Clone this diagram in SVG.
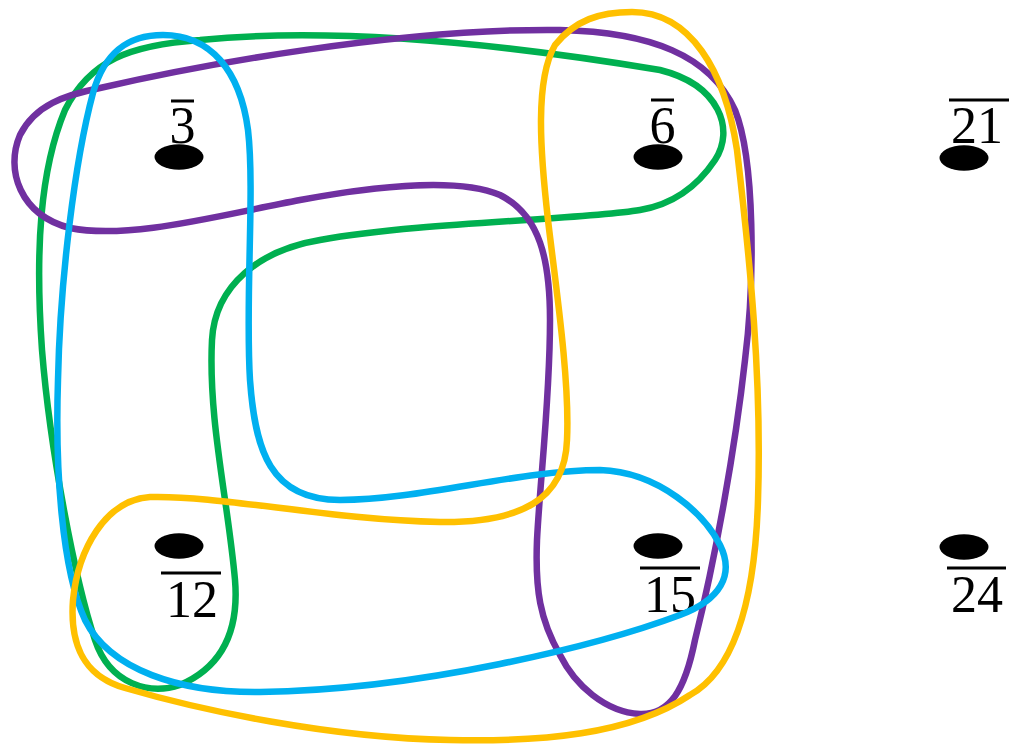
<svg xmlns="http://www.w3.org/2000/svg" width="1013" height="745" viewBox="0 0 1013 745">
<style>
.dot{fill:#000}
.lbl{font-family:"Liberation Serif","DejaVu Serif",serif;font-size:52px;fill:#000;text-anchor:middle}
.bar{stroke:#000;stroke-width:3}
.loop{fill:none;stroke-width:6.5;stroke-linejoin:round}
</style>
<rect width="1013" height="745" fill="#fff"/>
<g id="node-3">
<ellipse class="dot" cx="179" cy="157" rx="24.5" ry="12.7"/>
<text class="lbl" x="182.5" y="143">3</text>
<line class="bar" x1="171" y1="101" x2="194" y2="101"/>
</g>
<g id="node-6">
<ellipse class="dot" cx="658" cy="157" rx="24.5" ry="12.7"/>
<text class="lbl" x="662.5" y="143">6</text>
<line class="bar" x1="651" y1="100" x2="674" y2="100"/>
</g>
<g id="node-21">
<ellipse class="dot" cx="964" cy="158" rx="24.5" ry="12.7"/>
<text class="lbl" x="977" y="143">21</text>
<line class="bar" x1="949" y1="100" x2="1009" y2="100"/>
</g>
<g id="node-12">
<ellipse class="dot" cx="179" cy="546" rx="24.5" ry="12.7"/>
<text class="lbl" x="192" y="617">12</text>
<line class="bar" x1="161" y1="573" x2="221" y2="573"/>
</g>
<g id="node-15">
<ellipse class="dot" cx="658" cy="546" rx="24.5" ry="12.7"/>
<text class="lbl" x="670" y="612">15</text>
<line class="bar" x1="640" y1="568" x2="700" y2="568"/>
</g>
<g id="node-24">
<ellipse class="dot" cx="964" cy="547" rx="24.5" ry="12.7"/>
<text class="lbl" x="977" y="612">24</text>
<line class="bar" x1="947" y1="568" x2="1006" y2="568"/>
</g>
<g id="connectors">
<path id="green" class="loop" stroke="#00B050" d="M 200,40 C 300,30 450,35 660,70 C 720,85 735,130 715,160 C 695,190 670,205 640,210 C 580,220 420,222 320,240 C 260,250 215,285 212,340 C 208,420 228,500 235,580 C 240,640 215,670 180,685 C 150,695 110,685 95,640 C 75,580 50,450 42,350 C 35,250 40,170 65,110 C 90,60 130,45 200,40 Z"/>
<path id="purple" class="loop" stroke="#7030A0" d="M 100,88 C 200,65 400,28 560,30 C 650,32 710,55 735,110 C 755,160 755,280 745,360 C 735,450 715,560 695,640 C 685,690 670,715 640,714 C 605,712 575,685 560,655 C 540,620 535,590 537,540 C 540,480 550,400 550,320 C 550,260 540,215 500,195 C 460,178 380,185 300,200 C 220,215 130,240 70,228 C 20,215 5,170 20,135 C 35,105 65,95 100,88 Z"/>
<path id="blue" class="loop" stroke="#00B0F0" d="M 163,35 C 210,35 240,70 248,130 C 255,190 245,300 250,380 C 255,450 270,500 340,500 C 420,500 520,470 600,470 C 660,472 705,515 720,545 C 735,575 720,600 680,615 C 600,645 420,690 260,692 C 180,693 110,670 85,620 C 62,570 55,470 58,380 C 60,280 75,160 93,93 C 105,50 130,35 163,35 Z"/>
<path id="yellow" class="loop" stroke="#FFC000" d="M 632,12 C 690,12 725,70 737,150 C 750,260 762,380 758,500 C 755,600 735,670 690,695 C 630,735 540,742 450,740 C 330,738 200,710 125,688 C 80,675 70,640 73,600 C 78,550 105,500 150,497 C 220,495 330,520 440,522 C 520,523 565,500 567,440 C 570,380 555,280 548,220 C 540,150 535,80 555,45 C 575,20 600,12 632,12 Z"/>
</g>
</svg>
